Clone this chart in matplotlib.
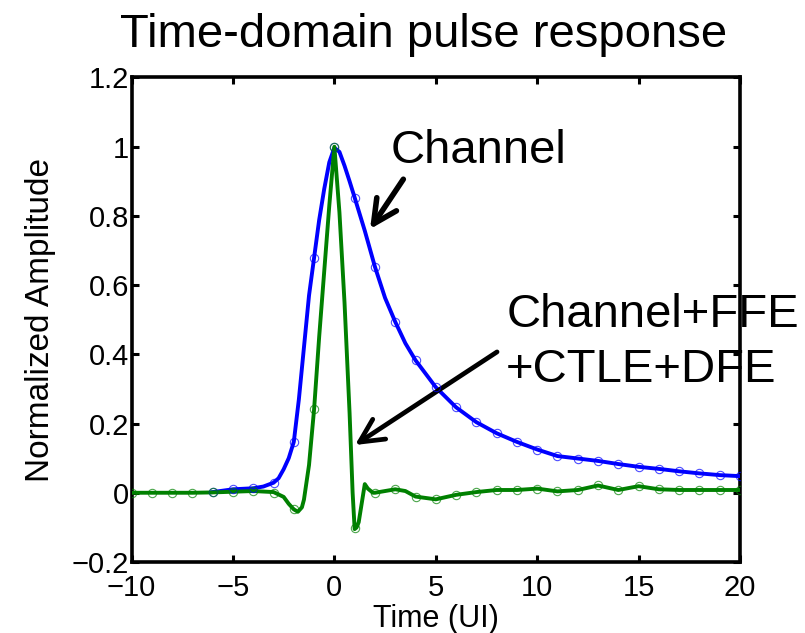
import matplotlib
matplotlib.use("Agg")
import matplotlib.pyplot as plt

plt.rcParams['font.family'] = ['Liberation Sans', 'DejaVu Sans']

# ---- data ----
blue_line_t = [-6, -5, -4, -3.5, -3, -2.75, -2.5, -2.25, -2, -1.75, -1.5, -1.25, -1, -0.75, -0.5,
               -0.25, 0, 0.25, 0.5, 0.75, 1, 1.25, 1.5, 1.75, 2, 2.5, 3, 3.5, 4,
               5, 6, 7, 8, 9, 10, 11, 12, 13, 14, 15, 16, 17, 18, 19, 20]
blue_line_y = [0.002, 0.010, 0.013, 0.018, 0.029, 0.042, 0.068, 0.10, 0.147, 0.270, 0.42, 0.570, 0.679, 0.788, 0.878,
               0.955, 0.997, 0.985, 0.945, 0.90, 0.853, 0.805, 0.757, 0.705, 0.653, 0.563, 0.494, 0.432, 0.383,
               0.305, 0.247, 0.204, 0.172, 0.147, 0.125, 0.106, 0.099, 0.092, 0.083, 0.075, 0.069, 0.062, 0.056, 0.051, 0.048]

blue_mark_t = list(range(-6, 21))
blue_mark_y = [0.002, 0.010, 0.013, 0.029, 0.147, 0.679, 1.0, 0.853, 0.653, 0.494, 0.383,
               0.305, 0.247, 0.204, 0.172, 0.147, 0.125, 0.106, 0.099, 0.092, 0.083, 0.075,
               0.069, 0.062, 0.056, 0.051, 0.048]

green_line_t = [-10, -9, -8, -7, -6, -5, -4, -3, -2.5, -2.25, -2, -1.8, -1.6, -1.5, -1.25, -1, -0.75, -0.5,
                -0.25, 0, 0.25, 0.5, 0.75, 0.9, 1.0, 1.1, 1.2, 1.35, 1.5, 1.65, 1.9, 2, 2.5, 3, 3.5, 4,
                5, 6, 7, 8, 9, 10, 11, 12, 13, 14, 15, 16, 17, 18, 19, 20]
green_line_y = [0.0, 0.0, 0.0, 0.0, 0.001, 0.003, 0.005, 0.002, -0.012, -0.032, -0.048, -0.055, -0.042, -0.02, 0.08, 0.241, 0.45, 0.64,
                0.83, 1.0, 0.81, 0.55, 0.23, 0.0, -0.105, -0.10, -0.085, -0.03, 0.025, 0.012, 0.0, 0.0, 0.005, 0.01, 0.005, -0.011,
                -0.019, -0.006, 0.002, 0.008, 0.008, 0.012, 0.004, 0.008, 0.021, 0.008, 0.019, 0.010, 0.008, 0.008, 0.008, 0.008]

green_mark_t = list(range(-10, 21))
green_mark_y = [0.0, 0.0, 0.0, 0.0, 0.001, 0.003, 0.005, 0.0, -0.048, 0.241, 1.0, -0.103, 0.0, 0.01, -0.011,
                -0.019, -0.006, 0.002, 0.008, 0.008, 0.012, 0.004, 0.008, 0.021, 0.008, 0.019, 0.010,
                0.008, 0.008, 0.008, 0.008]

xticks = [-10, -5, 0, 5, 10, 15, 20]
xtick_labels = ['\u221210', '\u22125', '0', '5', '10', '15', '20']
yticks = [-0.2, 0, 0.2, 0.4, 0.6, 0.8, 1.0, 1.2]
ytick_labels = ['\u22120.2', '0', '0.2', '0.4', '0.6', '0.8', '1', '1.2']

BLUE = '#0000ff'
GREEN = '#008000'

fig = plt.figure(figsize=(8.05, 6.33), dpi=100)
ax = fig.add_axes([0.1634, 0.1122, 0.7559, 0.7654])

ax.plot(blue_line_t, blue_line_y, color=BLUE, lw=2.8, zorder=3)
ax.plot(blue_mark_t, blue_mark_y, 'o', mfc='none', mec=BLUE, ms=6, mew=0.8, alpha=0.7, zorder=4)
ax.plot(green_line_t, green_line_y, color=GREEN, lw=2.8, zorder=3)
ax.plot(green_mark_t, green_mark_y, 'o', mfc='none', mec=GREEN, ms=6, mew=0.8, alpha=0.7, zorder=4)

ax.set_xlim(-10, 20)
ax.set_ylim(-0.2, 1.2)
ax.set_xticks(xticks)
ax.set_xticklabels(xtick_labels)
ax.set_yticks(yticks)
ax.set_yticklabels(ytick_labels)
ax.tick_params(direction='in', length=5, width=2.2, top=True, right=True, labelsize=21)
ax.tick_params(axis='y', pad=2)
ax.tick_params(axis='x', pad=9)
for s in ax.spines.values():
    s.set_linewidth(2.6)

ax.set_xlabel('Time (UI)', fontsize=22, labelpad=1)
ax.set_ylabel('Normalized Amplitude', fontsize=24, labelpad=11)
fig.text(0.526, 0.926, 'Time-domain pulse response', ha='center', va='baseline', fontsize=34)

# annotations
ax.annotate('', xy=(1.76, 0.762), xytext=(3.40, 0.906),
            arrowprops=dict(arrowstyle='->,head_length=1.7,head_width=0.85', lw=4.0,
                            color='black', mutation_scale=10, shrinkA=0, shrinkB=0))
ax.text(2.75, 0.952, 'Channel', fontsize=34, ha='left', va='baseline')

ax.annotate('', xy=(1.02, 0.138), xytext=(8.02, 0.407),
            arrowprops=dict(arrowstyle='->,head_length=1.7,head_width=0.85', lw=3.4,
                            color='black', mutation_scale=10, shrinkA=0, shrinkB=0))
ax.text(8.47, 0.48, 'Channel+FFE', fontsize=34, ha='left', va='baseline', clip_on=False)
ax.text(8.47, 0.321, '+CTLE+DFE', fontsize=34, ha='left', va='baseline', clip_on=False)

fig.savefig('out.png', dpi=100)
